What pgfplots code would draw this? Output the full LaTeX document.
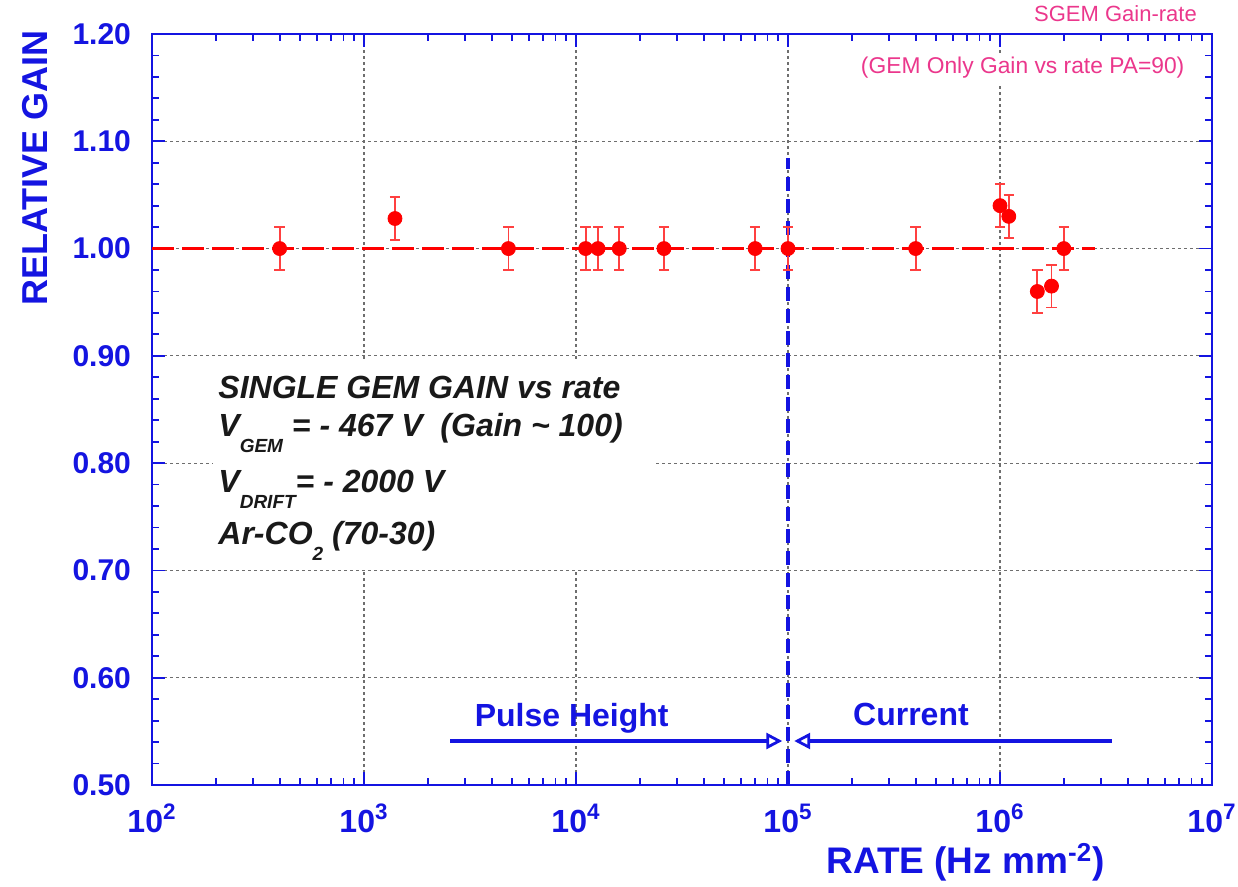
\documentclass[border=0pt]{standalone}
\usepackage{pgfplots}
\pgfplotsset{compat=1.18}
\usepackage{fontspec}
\setmainfont{Liberation Sans}
\usetikzlibrary{arrows.meta}
\definecolor{axblue}{RGB}{20,20,225}
\definecolor{ptred}{RGB}{255,0,0}
\definecolor{tagpink}{RGB}{235,55,140}
\definecolor{gridgray}{RGB}{110,110,110}
\definecolor{inkblack}{RGB}{25,25,25}
% lowered index used in the annotation block
\newcommand{\low}[1]{\raisebox{-8pt}{\fontsize{9.5}{9.5}\selectfont #1}}

\begin{document}
\begin{tikzpicture}
\useasboundingbox (-76pt,-51pt) rectangle (543pt,392.5pt);
\begin{axis}[
  scale only axis, width=530pt, height=375.5pt,
  xmode=log, log basis x=10,
  xmin=1e2, xmax=1e7, ymin=0.5, ymax=1.2,
  /pgf/number format/assume math mode=true,
  axis line style={axblue, line width=1.4pt},
  every tick/.style={axblue, line width=0.9pt},
  major tick length=6.5pt, minor tick length=3.5pt,
  tick align=inside,
  xtick={1e2,1e3,1e4,1e5,1e6,1e7},
  minor xtick={2e2,3e2,4e2,5e2,6e2,7e2,8e2,9e2,
               2e3,3e3,4e3,5e3,6e3,7e3,8e3,9e3,
               2e4,3e4,4e4,5e4,6e4,7e4,8e4,9e4,
               2e5,3e5,4e5,5e5,6e5,7e5,8e5,9e5,
               2e6,3e6,4e6,5e6,6e6,7e6,8e6,9e6},
  xticklabels={10\textsuperscript{2},10\textsuperscript{3},10\textsuperscript{4},10\textsuperscript{5},10\textsuperscript{6},10\textsuperscript{7}},
  ytick={0.5,0.6,0.7,0.8,0.9,1.0,1.1,1.2},
  minor y tick num=4,
  yticklabel={\pgfmathprintnumber[fixed,fixed zerofill,precision=2]{\tick}},
  xticklabel style={font=\fontsize{16}{16}\selectfont\bfseries, text=axblue, yshift=-6pt},
  yticklabel style={font=\fontsize{15}{15}\selectfont\bfseries, text=axblue, xshift=-7pt},
  grid=major,
  major grid style={gridgray, line width=0.6pt, dash pattern=on 1.5pt off 1.5pt},
  minor grid style={draw=none},
  clip=false,
]
% white panel behind the annotation block
\fill[white] (rel axis cs:0.0575,0.286) rectangle (rel axis cs:0.4726,0.566);

% flat reference level
\addplot[ptred, line width=1.6pt, dash pattern=on 11pt off 4pt]
  coordinates {(1e2,1.00) (2.8e6,1.00)};

% boundary between the two measurement methods
\addplot[axblue, line width=2pt, dash pattern=on 7pt off 4pt]
  coordinates {(1e5,0.5) (1e5,1.084)};

% method ranges
\addplot[axblue, line width=1.8pt, -{Triangle[open, length=8pt, width=8pt, line width=1.4pt]}]
  coordinates {(2.55e3,0.541) (9.4e4,0.541)};
\addplot[axblue, line width=1.8pt, -{Triangle[open, length=8pt, width=8pt, line width=1.4pt]}]
  coordinates {(3.37e6,0.541) (1.07e5,0.541)};

% measured relative gain
\addplot[only marks, mark=*, ptred, mark size=3.5pt,
  error bars/.cd, y dir=both, y explicit,
  error bar style={ptred!75!white, line width=0.9pt},
  error mark options={ptred!75!white, line width=0.9pt, mark size=2.6pt, rotate=90}]
  coordinates {
    (400,1.00) +- (0,0.02)
    (1400,1.028) +- (0,0.02)
    (4800,1.00) +- (0,0.02)
    (11100,1.00) +- (0,0.02)
    (12700,1.00) +- (0,0.02)
    (16000,1.00) +- (0,0.02)
    (26000,1.00) +- (0,0.02)
    (70000,1.00) +- (0,0.02)
    (100000,1.00) +- (0,0.02)
    (400000,1.00) +- (0,0.02)
    (1000000,1.04) +- (0,0.02)
    (1100000,1.03) +- (0,0.02)
    (1500000,0.96) +- (0,0.02)
    (1750000,0.965) +- (0,0.02)
    (2000000,1.00) +- (0,0.02)
  };

% annotation block
\begin{scope}[every node/.style={font=\fontsize{16}{16}\selectfont\bfseries\itshape, text=inkblack, inner sep=0pt, anchor=base west}]
\node at (rel axis cs:0.0623,0.514) {SINGLE GEM GAIN vs rate};
\node at (rel axis cs:0.0623,0.4634) {V\low{GEM} = - 467 V\ \ (Gain \textasciitilde{} 100)};
\node at (rel axis cs:0.0623,0.390) {V\low{DRIFT}= - 2000 V};
\node at (rel axis cs:0.0623,0.3196) {Ar-CO\low{2} (70-30)};
\end{scope}

% method labels
\node[font=\fontsize{16}{16}\selectfont\bfseries, text=axblue, anchor=base, inner sep=0pt]
  at (rel axis cs:0.396,0.078) {Pulse Height};
\node[font=\fontsize{16}{16}\selectfont\bfseries, text=axblue, anchor=base, inner sep=0pt]
  at (rel axis cs:0.716,0.079) {Current};

% header tags
\node[font=\fontsize{11}{11}\selectfont, text=tagpink, anchor=base east, inner sep=0pt]
  at ([yshift=6pt]rel axis cs:0.986,1) {SGEM Gain-rate};
\node[font=\fontsize{11.4}{11.4}\selectfont, text=tagpink, anchor=base east, fill=white, inner sep=2pt]
  at ([yshift=-20pt]rel axis cs:0.978,1) {(GEM Only Gain vs rate PA=90)};

% axis titles
\node[font=\fontsize{18}{18}\selectfont\bfseries, text=axblue, rotate=90, anchor=east, inner sep=0pt]
  at ([xshift=-58.5pt,yshift=2pt]rel axis cs:0,1) {RELATIVE GAIN};
\node[font=\fontsize{18.5}{18.5}\selectfont\bfseries, text=axblue, anchor=base east, inner sep=0pt]
  at ([yshift=-44.5pt]rel axis cs:0.899,0) {RATE (Hz mm\textsuperscript{-2})};
\end{axis}
\end{tikzpicture}
\end{document}
